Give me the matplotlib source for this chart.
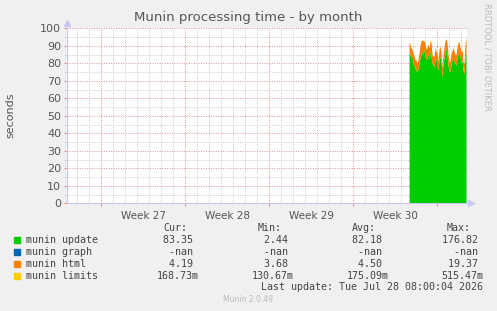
import numpy as np
import matplotlib
matplotlib.use("Agg")
import matplotlib.pyplot as plt
from matplotlib.ticker import MultipleLocator, FixedLocator

# ---- data ----
week_labels = ["Week 27", "Week 28", "Week 29", "Week 30"]
start_day = 25.67          # days after start of Week 27
step_day = 1.0 / 12.0      # 2-hour resolution
munin_update = [86, 85, 84, 83, 80, 79, 77, 76, 75, 77, 80, 83,
                86, 87, 85, 88, 84, 82, 83, 85, 82, 87, 84, 80,
                79, 78, 83, 82, 80, 76, 82, 84, 81, 72, 80, 83,
                86, 88, 85, 79, 76, 75, 80, 82, 83, 81, 80, 79,
                83, 85, 86, 84, 80, 82, 76, 74, 84, 86]
munin_html = [6, 6, 5, 5, 6, 5, 5, 6, 5, 5, 6, 7,
              7, 6, 8, 5, 7, 6, 6, 6, 7, 6, 8, 5,
              5, 6, 6, 5, 6, 5, 6, 6, 5, 6, 5, 6,
              7, 6, 7, 6, 5, 6, 6, 5, 6, 6, 5, 6,
              6, 7, 6, 5, 6, 6, 5, 6, 7, 9]
munin_limits = [0.17] * len(munin_update)

legend_names = ["munin update", "munin graph", "munin html", "munin limits"]
legend_colors = ["#00CC00", "#0066B3", "#FF8000", "#FFCC00"]
cur_vals = ["83.35 ", "-nan ", "4.19 ", "168.73m"]
min_vals = ["2.44 ", "-nan ", "3.68 ", "130.67m"]
avg_vals = ["82.18 ", "-nan ", "4.50 ", "175.09m"]
max_vals = ["176.82 ", "-nan ", "19.37 ", "515.47m"]

# ---- figure ----
W, H = 497, 311
fig = plt.figure(figsize=(W / 100, H / 100), dpi=100, facecolor="#F0F0F0")

def px(x0, y0, x1, y1):
    return [x0 / W, 1 - y1 / H, (x1 - x0) / W, (y1 - y0) / H]

ax = fig.add_axes(px(66.7, 28.3, 467, 203.3))
ax.set_facecolor("white")

n = len(munin_update)
t = start_day + step_day * np.arange(n)
upd = np.array(munin_update, float)
html = np.array(munin_html, float)
lim = np.array(munin_limits, float)

ax.fill_between(t, 0, upd, color=legend_colors[0], lw=0, zorder=3)
ax.fill_between(t, upd, upd + html, color=legend_colors[2], lw=0, zorder=3)
ax.fill_between(t, upd + html, upd + html + lim, color=legend_colors[3], lw=0, zorder=3)

ax.set_xlim(-2.86, 30.5)
ax.set_ylim(0, 100)

ax.xaxis.set_major_locator(FixedLocator([0, 7, 14, 21, 28]))
ax.xaxis.set_minor_locator(MultipleLocator(1))
ax.yaxis.set_major_locator(MultipleLocator(10))
ax.yaxis.set_minor_locator(MultipleLocator(5))
ax.grid(which="minor", color="#C8C8C8", linestyle=(0, (1, 1.5)), lw=0.7, zorder=1)
ax.grid(which="major", color="#E09090", linestyle=(0, (1, 1.5)), lw=0.7, zorder=2)
ax.set_xticklabels([])
ax.tick_params(axis="x", which="major", length=2, color="#E09090", direction="out")
ax.tick_params(axis="x", which="minor", length=0)
ax.tick_params(axis="y", which="major", length=2, color="#E09090", labelsize=8,
               labelcolor="#555555", pad=2)
ax.tick_params(axis="y", which="minor", length=2, color="#C8C8C8")

for i, lab in enumerate(week_labels):
    ax.text(3.5 + 7 * i, -4.5, lab, ha="center", va="top", fontsize=7.5,
            color="#555555", clip_on=False)

for s in ["top", "right"]:
    ax.spines[s].set_visible(False)
for s in ["left", "bottom"]:
    ax.spines[s].set_color("#C8C8EE")
    ax.spines[s].set_linewidth(0.8)
    ax.spines[s].set_zorder(5)

# axis arrows
ax.plot([0], [1.03], marker="^", color="#C8C8F5", ms=5, transform=ax.transAxes,
        clip_on=False)
ax.plot([1.01], [0], marker=">", color="#C8C8F5", ms=5, transform=ax.transAxes,
        clip_on=False)

# texts
fig.text(248 / W, 1 - 17 / H, "Munin processing time - by month", ha="center",
         va="center", fontsize=9.5, color="#555555")
fig.text(10 / W, 1 - 115 / H, "seconds", rotation=90, ha="center", va="center",
         fontsize=8, color="#555555")
fig.text(487 / W, 1 - 57 / H, "RRDTOOL / TOBI OETIKER", rotation=270,
         ha="center", va="center", fontsize=6, color="#BBBBBB")

mono = "DejaVu Sans Mono"
fs = 7.2
tc = "#444444"
headers = [("Cur:", 187), ("Min:", 282), ("Avg:", 376), ("Max:", 471)]
for h, xr in headers:
    fig.text(xr / W, 1 - 228 / H, h, ha="right", va="center", family=mono,
             fontsize=fs, color=tc)
rows_y = [239.7, 251.7, 263.7, 275.7]
cols = [(cur_vals, 199), (min_vals, 294), (avg_vals, 388.5), (max_vals, 483.5)]
for i, name in enumerate(legend_names):
    y = rows_y[i]
    fig.patches.append(plt.Rectangle((14 / W, 1 - (y + 3) / H), 6 / W, 6 / H,
                                     color=legend_colors[i], transform=fig.transFigure))
    fig.text(26 / W, 1 - y / H, name, ha="left", va="center", family=mono,
             fontsize=fs, color=tc)
    for vals, xr in cols:
        fig.text(xr / W, 1 - y / H, vals[i], ha="right", va="center", family=mono,
                 fontsize=fs, color=tc)

fig.text(483 / W, 1 - 287.3 / H, "Last update: Tue Jul 28 08:00:04 2026", ha="right",
         va="center", family=mono, fontsize=fs, color=tc)
fig.text(248 / W, 1 - 300 / H, "Munin 2.0.49", ha="center", va="center",
         fontsize=5.5, color="#BBBBBB")

fig.savefig("out.png", dpi=100, facecolor=fig.get_facecolor())
